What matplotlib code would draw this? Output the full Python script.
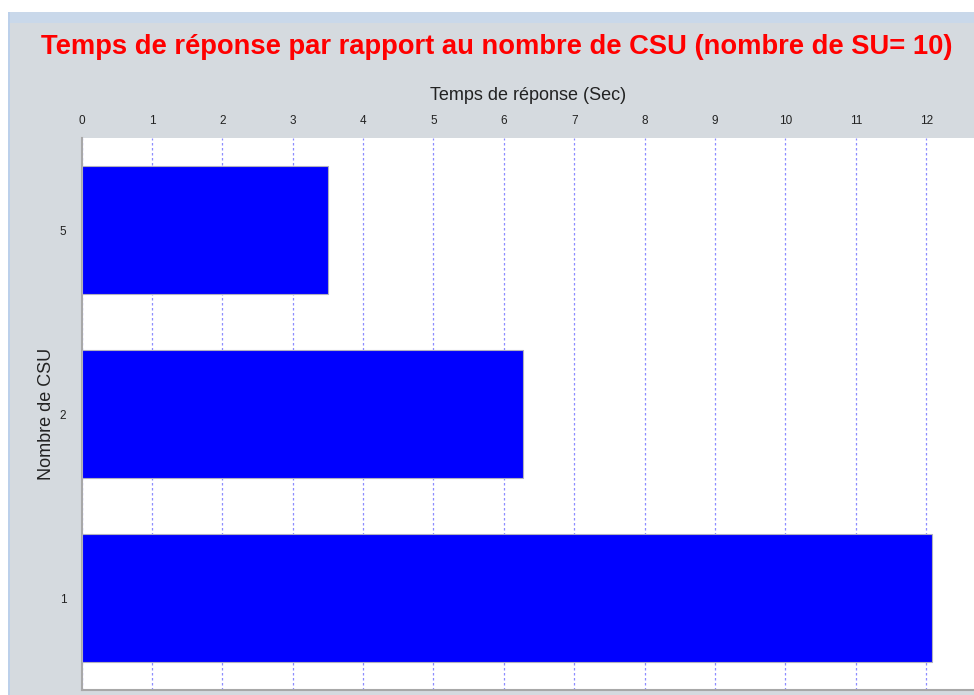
import matplotlib.pyplot as plt
from matplotlib.patches import Rectangle

# Chart data
categories = ["5", "2", "1"]
response_times = [3.5, 6.27, 12.09]
x_ticks = list(range(0, 13))

title = "Temps de réponse par rapport au nombre de CSU (nombre de SU= 10)"
x_label = "Temps de réponse (Sec)"
y_label = "Nombre de CSU"

W, H = 974, 695
BG = "#d5dadf"
SANS = ["Liberation Sans", "DejaVu Sans"]

fig = plt.figure(figsize=(W / 100, H / 100), dpi=100)
fig.patch.set_facecolor(BG)

# window chrome around the chart panel
fig.add_artist(Rectangle((0, 1 - 12 / H), 1, 12 / H, transform=fig.transFigure,
                         facecolor="white", edgecolor="none", zorder=0))
fig.add_artist(Rectangle((0, 1 - 23 / H), 1, 11 / H, transform=fig.transFigure,
                         facecolor="#c9d8ea", edgecolor="none", zorder=0))
fig.add_artist(Rectangle((0, 0), 8 / W, 1 - 12 / H, transform=fig.transFigure,
                         facecolor="white", edgecolor="none", zorder=0))
fig.add_artist(Rectangle((8 / W, 0), 2 / W, 1 - 12 / H, transform=fig.transFigure,
                         facecolor="#bcd0ea", edgecolor="none", zorder=0))

left, right = 81.5 / W, 1.0
bottom, top = 1 - 690 / H, 1 - 138 / H
ax = fig.add_axes([left, bottom, right - left, top - bottom])
ax.set_facecolor("white")

ypos = list(range(len(categories)))
ax.barh(ypos, response_times, height=0.7, color="#0000ff",
        edgecolor="#b0b0c0", linewidth=0.8, zorder=3)

ax.set_xlim(0, 12.68)
ax.set_ylim(2.5, -0.5)
ax.set_yticks(ypos)
ax.set_yticklabels(categories)
ax.set_xticks(x_ticks)
ax.xaxis.tick_top()
ax.xaxis.set_label_position("top")
ax.tick_params(axis="x", length=0, pad=8, labelsize=8.5, colors="#222222")
ax.tick_params(axis="y", length=0, pad=11, labelsize=8.5, colors="#222222")
for lbl in ax.get_xticklabels() + ax.get_yticklabels():
    lbl.set_family(SANS)

ax.grid(axis="x", color="#8c8cff", linestyle=(0, (2, 2)), linewidth=0.9, zorder=1)
ax.grid(axis="y", visible=False)

for side in ["right", "top"]:
    ax.spines[side].set_visible(False)
ax.spines["left"].set_color("#a8a8a8")
ax.spines["bottom"].set_color("#a8a8a8")
ax.spines["left"].set_linewidth(1.5)
ax.spines["bottom"].set_linewidth(1.5)

ax.set_xlabel(x_label, fontsize=13, color="#222222", labelpad=11, family=SANS)
ax.set_ylabel(y_label, fontsize=13, color="#222222", labelpad=3, family=SANS)

fig.text(497 / W, 1 - 47 / H, title, ha="center", va="center", color="#ff0000",
         fontsize=19.7, fontweight="bold",
         family=["Liberation Sans Narrow", "Liberation Sans", "DejaVu Sans"])

fig.savefig("out.png", dpi=100, facecolor=fig.get_facecolor())
